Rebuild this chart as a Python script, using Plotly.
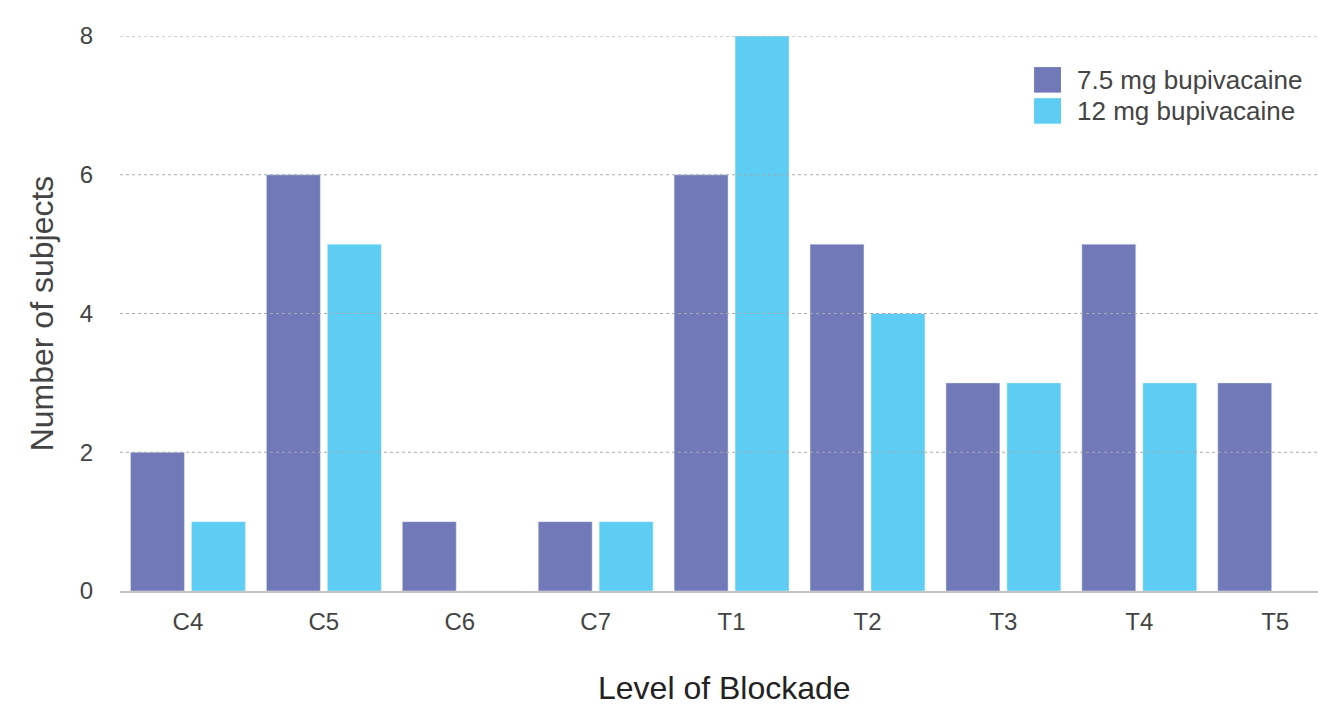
import plotly.graph_objects as go

levels = ["C4", "C5", "C6", "C7", "T1", "T2", "T3", "T4", "T5"]
dose_75 = [2, 6, 1, 1, 6, 5, 3, 5, 3]
dose_12 = [1, 5, 0, 1, 8, 4, 3, 3, 0]
series_names = ["7.5 mg bupivacaine", "12 mg bupivacaine"]
y_ticks = [0, 2, 4, 6, 8]

PURPLE = "#7179B8"
CYAN = "#5ECDF3"
FONT = "Liberation Sans, Helvetica, Arial, sans-serif"

fig = go.Figure()
fig.add_trace(go.Bar(x=levels, y=dose_75, name=series_names[0], marker_color=PURPLE))
fig.add_trace(go.Bar(x=levels, y=dose_12, name=series_names[1], marker_color=CYAN))

# dotted gridlines drawn over the bars
for t in y_ticks[1:]:
    fig.add_shape(type="line", xref="paper", yref="y", x0=0, x1=1, y0=t, y1=t,
                  line=dict(color="#a8a8a8", width=1, dash="dot"), layer="above")

# legend with large square swatches
for i, (name, col) in enumerate(zip(series_names, [PURPLE, CYAN])):
    top = 0.944 - i * 0.056
    fig.add_shape(type="rect", xref="paper", yref="paper",
                  x0=0.763, x1=0.7855, y0=top - 0.046, y1=top,
                  fillcolor=col, line=dict(width=0), layer="above")
    fig.add_annotation(xref="paper", yref="paper", x=0.797, y=top - 0.023,
                       xanchor="left", yanchor="middle", text=name, showarrow=False,
                       font=dict(size=26, color="#444444"))

# x-axis title placed near the bottom edge
fig.add_annotation(xref="paper", yref="paper", x=0.505, y=-0.175,
                   xanchor="center", yanchor="middle", text="Level of Blockade",
                   showarrow=False, font=dict(size=32, color="#222222"))

fig.update_layout(
    width=1318, height=708,
    margin=dict(l=120, r=0, t=36, b=117),
    paper_bgcolor="white", plot_bgcolor="white",
    barmode="group", bargap=0.103, bargroupgap=0.115,
    showlegend=False,
    font=dict(family=FONT, color="#444444"),
    xaxis=dict(range=[-0.5, 8.315], showgrid=False, zeroline=False,
               showline=True, linecolor="#c4c4c4", linewidth=2,
               tickfont=dict(size=24, color="#444444"), ticks="",
               ticklabelstandoff=8, automargin=False),
    yaxis=dict(range=[0, 8], tickvals=y_ticks, showgrid=False, zeroline=False,
               showline=False, ticks="", ticklabelstandoff=26, automargin=False,
               tickfont=dict(size=24, color="#444444"),
               title=dict(text="Number of subjects", standoff=16,
                          font=dict(size=32, color="#444444"))),
)

fig.write_html("out.html")
